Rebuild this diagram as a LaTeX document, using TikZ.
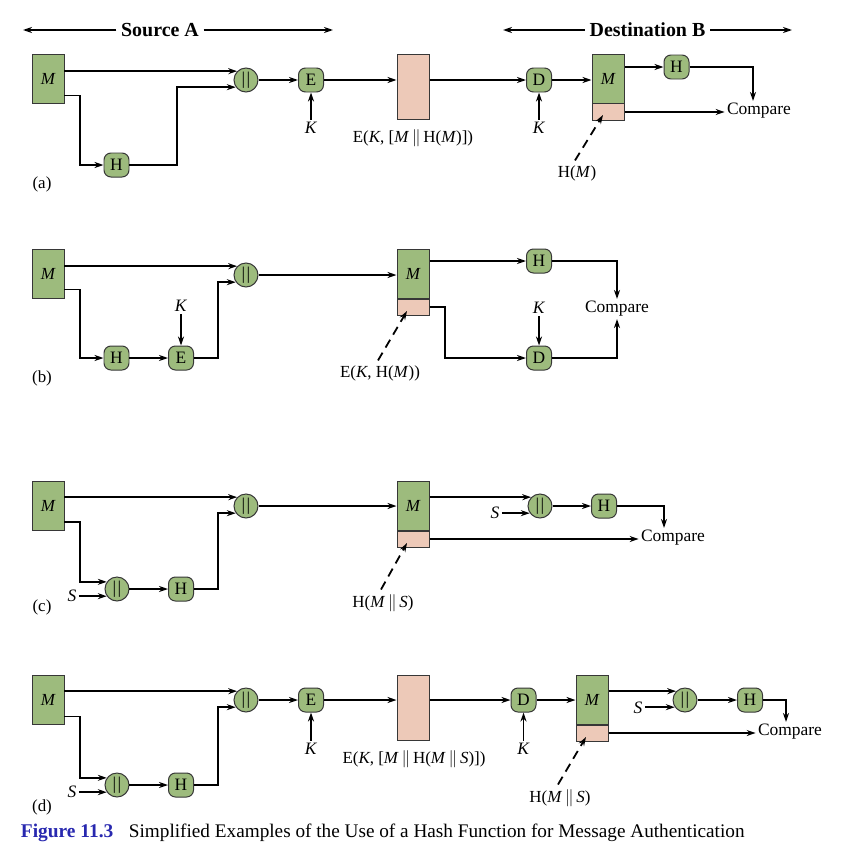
\documentclass[tikz,border=0pt]{standalone}
\usepackage{fontspec}
\setmainfont{Liberation Serif}
\usetikzlibrary{arrows.meta,calc}
\definecolor{gr}{RGB}{157,187,125}
\definecolor{pk}{RGB}{237,201,184}
\definecolor{bd}{RGB}{55,55,55}
\definecolor{capblue}{RGB}{40,40,175}
\newcommand\fsz[1]{\fontsize{#1}{#1}\selectfont}
\newcommand\bars{\textbar\kern1.5pt\textbar}
\begin{document}
\begin{tikzpicture}[x=1bp,y=-1bp,
  >={Stealth[length=9pt,width=6pt]},
  line width=1.8pt,
  mbox/.style={draw=bd,line width=1pt,fill=gr,inner sep=0pt,minimum width=32bp,minimum height=49bp,font=\fsz{17}\itshape},
  pbox/.style={draw=bd,line width=1pt,fill=pk,inner sep=0pt,minimum width=32bp,minimum height=16bp},
  cbox/.style={draw=bd,line width=1pt,fill=pk,inner sep=0pt,minimum width=32bp,minimum height=65bp},
  fn/.style={draw=bd,line width=1pt,fill=gr,rounded corners=7pt,minimum width=25bp,minimum height=24bp,inner sep=0pt,font=\fsz{17.5}},
  cat/.style={circle,draw=bd,line width=1pt,fill=gr,minimum size=24bp,inner sep=0pt,font=\fsz{18}},
  txt/.style={inner sep=1.5pt,font=\fsz{17.5}},
  lbl/.style={inner sep=1pt,font=\fsz{17}},
  hdr/.style={inner sep=4pt,font=\fsz{20}\bfseries},
  dsh/.style={->,dash pattern=on 9pt off 6pt},
]
\useasboundingbox (0,0) rectangle (849,863);
% headers
\node[hdr] (SA) at (160,30) {Source A};
\coordinate (sal) at (23,30);
\coordinate (sar) at (333,30);
\draw[->] (SA.west) -- (sal);
\draw[->] (SA.east) -- (sar);
\node[hdr] (DB) at (647.5,30) {Destination B};
\coordinate (dbl) at (503,30);
\coordinate (dbr) at (792,30);
\draw[->] (DB.west) -- (dbl);
\draw[->] (DB.east) -- (dbr);

% ---------------- (a)
\node[mbox] (Ma) at (48,78.5) {M};
\node[fn] (Ha) at (116.5,165) {H};
\node[cat] (cata) at (246,80) {\bars};
\node[fn] (Ea) at (311,80) {E};
\node[txt] (Ka) at (311,128) {\textit{K}};
\node[cbox] (Ca) at (413,86.5) {};
\node[lbl] (La) at (413,138) {E(\textit{K}, [\textit{M}\,$\|$\,H(\textit{M})])};
\node[fn] (Da) at (539,80) {D};
\node[txt] (Kda) at (539,128) {\textit{K}};
\node[mbox] (MBa) at (608,78.5) {M};
\node[pbox,anchor=north] (MPa) at (MBa.south) {};
\node[fn] (HBa) at (676.5,67) {H};
\node[txt] (Cmpa) at (759,111) {Compare};
\node[lbl] (LHa) at (577,173) {H(\textit{M})};
\node[lbl] (pa) at (42,184) {(a)};
\draw[->] (Ma.east |- cata.135) -- (cata.135);
\draw[->] ($(Ma.east)+(0,17)$) -| ($(Ha.west)+(-23.5,0)$) -- (Ha.west);
\draw[->] (Ha.east) -| ($(cata.215)+(-59,0)$) -- (cata.215);
\draw[->] (cata.east) -- (Ea.west);
\draw[->] (Ka.north) -- (Ea.south);
\draw[->] (Ea.east) -- (Ca.west |- Ea.east);
\draw[->] (Ca.east |- Da.west) -- (Da.west);
\draw[->] (Kda.north) -- (Da.south);
\draw[->] (Da.east) -- (MBa.west |- Da.east);
\draw[->] (MBa.east |- HBa.west) -- (HBa.west);
\draw[->] (HBa.east) -| ([xshift=-6bp]Cmpa.north);
\draw[->] (MPa.east) -- (Cmpa.west |- MPa.east);
\draw[dsh] ([xshift=-2bp,yshift=3bp]LHa.north) -- ($(MPa.center)+(-5,3)$);

% ---------------- (b)
\node[mbox] (Mb) at (48,273.5) {M};
\node[cat] (catb) at (246,275) {\bars};
\node[fn] (Hb) at (116.5,358) {H};
\node[fn] (Eb) at (181,358) {E};
\node[txt] (Kb) at (181,306) {\textit{K}};
\node[mbox] (MBb) at (413,273.5) {M};
\node[pbox,anchor=north] (MPb) at (MBb.south) {};
\node[lbl] (Lb) at (380,373) {E(\textit{K}, H(\textit{M}))};
\node[fn] (Hb2) at (539,261) {H};
\node[fn] (Db) at (539,358) {D};
\node[txt] (Kb2) at (539,308) {\textit{K}};
\node[txt] (Cmpb) at (617,309) {Compare};
\node[lbl] (pb) at (42,378) {(b)};
\draw[->] (Mb.east |- catb.135) -- (catb.135);
\draw[->] ($(Mb.east)+(0,16)$) -| ($(Hb.west)+(-23.5,0)$) -- (Hb.west);
\draw[->] (Hb.east) -- (Eb.west);
\draw[->] (Kb.south) -- (Eb.north);
\draw[->] (Eb.east) -| ($(catb.215)+(-18,0)$) -- (catb.215);
\draw[->] (catb.east) -- (MBb.west |- catb.east);
\draw[->] (MBb.east |- Hb2.west) -- (Hb2.west);
\draw[->] (Hb2.east) -| (Cmpb.north);
\draw[->] (MPb.east) -| ($(Db.west)+(-81,0)$) -- (Db.west);
\draw[->] (Kb2.south) -- (Db.north);
\draw[->] (Db.east) -| (Cmpb.south);
\draw[dsh] ([xshift=-2bp,yshift=3bp]Lb.north) -- ($(MPb.center)+(-6,4)$);

% ---------------- (c)
\node[mbox] (Mc) at (48,506) {M};
\node[cat] (catc) at (246,506) {\bars};
\node[cat] (catc2) at (117,589) {\bars};
\node[txt] (Sc) at (72,596) {\textit{S}};
\node[fn] (Hc) at (181,589) {H};
\node[mbox] (MBc) at (413,505.5) {M};
\node[pbox,anchor=north] (MPc) at (MBc.south) {};
\node[lbl] (Lc) at (383,603) {H(\textit{M}\,$\|$\,\textit{S})};
\node[cat] (catc3) at (540,506) {\bars};
\node[txt] (Sc2) at (495,513) {\textit{S}};
\node[fn] (Hc2) at (604,506) {H};
\node[txt] (Cmpc) at (673,538) {Compare};
\node[lbl] (pc) at (42,607) {(c)};
\draw[->] (Mc.east |- catc.135) -- (catc.135);
\draw[->] ($(Mc.east)+(0,16)$) -| ($(catc2.145)+(-27,0)$) -- (catc2.145);
\draw[->] (Sc.east |- catc2.215) -- (catc2.215);
\draw[->] (catc2.east) -- (Hc.west);
\draw[->] (Hc.east) -| ($(catc.215)+(-18,0)$) -- (catc.215);
\draw[->] (catc.east) -- (MBc.west |- catc.east);
\draw[->] (MBc.east |- catc3.135) -- (catc3.135);
\draw[->] (Sc2.east |- catc3.215) -- (catc3.215);
\draw[->] (catc3.east) -- (Hc2.west);
\draw[->] (Hc2.east) -| ([xshift=-9bp]Cmpc.north);
\draw[->] (MPc.east) -- (Cmpc.west |- MPc.east);
\draw[dsh] ([xshift=-2bp,yshift=3bp]Lc.north) -- ($(MPc.center)+(-6,4)$);

% ---------------- (d)
\node[mbox] (Md) at (48,699.5) {M};
\node[cat] (catd) at (246,700) {\bars};
\node[cat] (catd2) at (117,785) {\bars};
\node[txt] (Sd) at (72,792) {\textit{S}};
\node[fn] (Hd) at (181,785) {H};
\node[fn] (Ed) at (311,700) {E};
\node[txt] (Kd) at (311,749) {\textit{K}};
\node[cbox] (Cd) at (413,708) {};
\node[lbl] (Ld) at (414,759) {E(\textit{K}, [\textit{M}\,$\|$\,H(\textit{M}\,$\|$\,\textit{S})])};
\node[fn] (Dd) at (523.5,700) {D};
\node[txt] (Kd2) at (523.5,749) {\textit{K}};
\node[mbox] (MBd) at (592,699.5) {M};
\node[pbox,anchor=north] (MPd) at (MBd.south) {};
\node[cat] (catd3) at (685,700) {\bars};
\node[txt] (Sd2) at (638,708) {\textit{S}};
\node[fn] (Hd2) at (750,700) {H};
\node[txt] (Cmpd) at (790,732) {Compare};
\node[lbl] (Ld2) at (560,798) {H(\textit{M}\,$\|$\,\textit{S})};
\node[lbl] (pd) at (42,807) {(d)};
\draw[->] (Md.east |- catd.135) -- (catd.135);
\draw[->] ($(Md.east)+(0,17)$) -| ($(catd2.145)+(-27,0)$) -- (catd2.145);
\draw[->] (Sd.east |- catd2.215) -- (catd2.215);
\draw[->] (catd2.east) -- (Hd.west);
\draw[->] (Hd.east) -| ($(catd.215)+(-18,0)$) -- (catd.215);
\draw[->] (catd.east) -- (Ed.west);
\draw[->] (Kd.north) -- (Ed.south);
\draw[->] (Ed.east) -- (Cd.west |- Ed.east);
\draw[->] (Cd.east |- Dd.west) -- (Dd.west);
\draw[->] (Kd2.north) -- (Dd.south);
\draw[->] (Dd.east) -- (MBd.west |- Dd.east);
\draw[->] (MBd.east |- catd3.135) -- (catd3.135);
\draw[->] (Sd2.east |- catd3.215) -- (catd3.215);
\draw[->] (catd3.east) -- (Hd2.west);
\draw[->] (Hd2.east) -| ([xshift=-4bp]Cmpd.north);
\draw[->] (MPd.east) -- (Cmpd.west |- MPd.east);
\draw[dsh] ([xshift=-2bp,yshift=3bp]Ld2.north) -- ($(MPd.center)+(-6,4)$);

% caption
\node[anchor=west,inner sep=0pt,font=\fsz{19.5}\bfseries,text=capblue] (fig) at (20,833) {Figure 11.3};
\node[anchor=west,inner sep=0pt,font=\fsz{19.3}] (cap) at (128,833) {Simplified Examples of the Use of a Hash Function for Message Authentication};
\end{tikzpicture}
\end{document}
